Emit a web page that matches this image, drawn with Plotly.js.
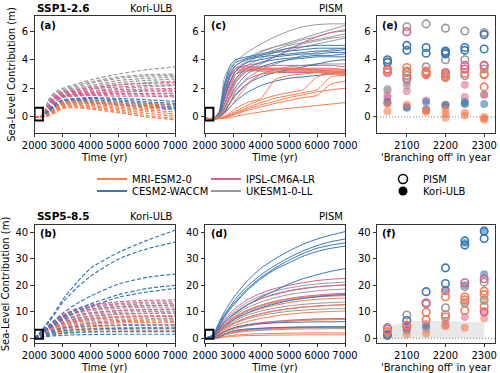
<!DOCTYPE html>
<html><head><meta charset="utf-8">
<script src="https://cdn.plot.ly/plotly-3.0.1.min.js"></script>
<style>html,body{margin:0;padding:0;background:#fff}</style>
</head><body><div id="chart" style="width:500px;height:373px"></div>
<script>
// ---------- DATA ----------
const T_KORI = [2000, 2300, 2500, 2700, 3000, 3500, 4000, 5000, 6000, 7000];
const T_PISM = [2000, 2300, 2500, 2700, 2900, 3100, 3500, 4000, 4500, 5000, 5500, 6000, 6500, 7000];

// (a) Kori-ULB SSP1-2.6
const a_UKESM = [
 [0,0.15,1.2,1.7,2.0,2.3,2.6,3.0,3.3,3.5],
 [0,0.12,1.1,1.6,1.9,2.2,2.45,2.8,2.95,3.0],
 [0,0.1,1.0,1.5,1.8,2.1,2.35,2.7,2.85,2.9],
 [0,0.1,0.95,1.45,1.75,2.0,2.2,2.55,2.7,2.8],
 [0,0.08,0.9,1.4,1.65,1.9,2.1,2.4,2.55,2.65],
 [0,0.08,0.85,1.3,1.55,1.75,1.95,2.25,2.4,2.5],
 [0,0.06,0.8,1.25,1.45,1.65,1.8,2.0,2.1,2.2],
 [0,0.05,0.7,1.15,1.4,1.55,1.65,1.8,1.85,1.9]];
const a_IPSL = [
 [0,0.08,0.85,1.35,1.7,1.9,2.05,2.25,2.35,2.4],
 [0,0.07,0.8,1.3,1.65,1.8,1.95,2.1,2.2,2.25],
 [0,0.06,0.75,1.25,1.55,1.7,1.8,1.9,1.95,2.0],
 [0,0.05,0.7,1.2,1.5,1.6,1.7,1.75,1.8,1.8],
 [0,0.05,0.65,1.1,1.45,1.55,1.6,1.65,1.65,1.65],
 [0,0.04,0.6,1.05,1.4,1.5,1.55,1.55,1.55,1.5],
 [0,0.04,0.55,1.0,1.35,1.45,1.5,1.45,1.45,1.4]];
const a_CESM = [
 [0,0.05,0.5,0.9,1.2,1.3,1.35,1.3,1.2,1.1],
 [0,0.05,0.45,0.85,1.15,1.25,1.3,1.2,1.05,0.95],
 [0,0.04,0.4,0.8,1.1,1.2,1.2,1.1,0.95,0.85],
 [0,0.04,0.35,0.75,1.05,1.15,1.15,1.0,0.85,0.7],
 [0,0.03,0.3,0.7,1.0,1.1,1.05,0.9,0.75,0.6],
 [0,0.03,0.3,0.65,0.95,1.05,1.0,0.85,0.7,0.55]];
const a_MRI = [
 [0,0.03,0.25,0.6,1.05,1.1,1.1,1.0,0.9,0.8],
 [0,0.03,0.22,0.55,0.95,1.05,1.05,0.9,0.75,0.65],
 [0,0.02,0.2,0.5,0.9,0.95,0.95,0.8,0.6,0.5],
 [0,0.02,0.18,0.45,0.85,0.9,0.9,0.7,0.5,0.35],
 [0,0.02,0.15,0.4,0.8,0.85,0.8,0.6,0.4,0.2],
 [0,0.01,0.12,0.35,0.72,0.78,0.72,0.5,0.25,0.05],
 [0,0.01,0.1,0.3,0.65,0.7,0.62,0.4,0.1,-0.1],
 [0,0.01,0.08,0.25,0.6,0.65,0.55,0.3,0.0,-0.2]];

// (c) PISM SSP1-2.6
const c_UKESM = [
 [-0.1,-0.1,0.35,2.8,3.5,3.9,4.5,5.1,5.6,6.0,6.3,6.45,6.5,6.5],
 [-0.1,-0.1,0.25,2.4,3.2,3.6,4.1,4.6,4.9,5.2,5.5,5.8,6.1,6.4],
 [-0.1,-0.1,0.2,2.2,3.0,3.4,3.9,4.5,4.9,5.1,5.4,5.6,5.9,6.1],
 [-0.1,-0.1,0.15,1.8,2.8,3.3,3.8,4.3,4.7,5.0,5.2,5.4,5.6,5.8],
 [-0.1,-0.1,0.1,1.4,2.4,3.0,3.6,4.1,4.5,4.8,5.1,5.3,5.5,5.6],
 [-0.1,-0.1,0.05,0.9,1.8,2.5,3.2,3.7,4.2,4.6,4.9,5.1,5.3,5.5],
 [-0.1,-0.1,0.0,0.6,1.3,1.9,2.7,3.3,3.7,4.0,4.3,4.5,4.7,4.8],
 [-0.1,-0.1,0.0,0.4,1.0,1.5,2.3,3.0,3.3,3.5,3.6,3.7,3.7,3.7],
 [-0.1,-0.1,0.1,1.5,2.5,3.0,3.2,3.3,3.3,3.35,3.3,3.3,3.2,3.2]];
const c_IPSL = [
 [-0.1,-0.1,0.2,1.6,2.9,3.4,3.6,3.8,4.2,4.7,5.2,5.6,5.9,6.0],
 [-0.1,-0.1,0.2,1.5,2.8,3.4,3.5,3.5,3.6,3.6,3.6,3.6,3.6,3.5],
 [-0.1,-0.1,0.15,1.2,2.5,3.2,3.4,3.4,3.4,3.4,3.4,3.4,3.4,3.3],
 [-0.1,-0.1,0.1,0.9,2.2,3.0,3.3,3.3,3.3,3.3,3.3,3.3,3.2,3.2],
 [-0.1,-0.1,0.05,0.6,1.6,2.6,3.2,3.2,3.2,3.2,3.2,3.2,3.1,3.1],
 [-0.1,-0.1,0.0,0.3,1.0,1.8,2.6,3.0,3.1,3.1,3.1,3.1,3.0,3.0]];
const c_CESM = [
 [-0.1,-0.1,0.3,2.3,3.6,4.0,4.2,4.4,4.6,4.8,4.9,5.0,5.0,5.0],
 [-0.1,-0.1,0.25,2.0,3.3,3.8,4.1,4.3,4.5,4.6,4.7,4.8,4.8,4.8],
 [-0.1,-0.1,0.2,1.7,3.0,3.6,4.0,4.2,4.3,4.4,4.5,4.6,4.6,4.7],
 [-0.1,-0.1,0.15,1.3,2.5,3.2,3.8,4.0,4.2,4.3,4.4,4.4,4.5,4.5],
 [-0.1,-0.1,0.1,0.9,1.9,2.7,3.4,3.8,4.0,4.1,4.2,4.3,4.3,4.4],
 [-0.1,-0.1,0.05,0.6,1.4,2.1,3.0,3.5,3.8,4.0,4.1,4.2,4.2,4.2],
 [-0.1,-0.1,0.0,0.4,1.0,1.6,2.3,2.8,3.1,3.3,3.5,3.7,3.9,4.0],
 [-0.1,-0.1,0.0,0.3,0.7,1.1,1.7,2.2,2.5,2.7,2.8,2.9,3.0,3.1]];
const c_MRI = [
 [-0.1,-0.1,0.1,0.8,2.0,3.0,3.4,3.4,3.4,3.4,3.4,3.3,3.3,3.3],
 [-0.1,-0.1,0.05,0.5,1.4,2.4,3.2,3.3,3.3,3.3,3.3,3.2,3.2,3.2],
 [-0.1,-0.15,-0.05,0.2,0.7,1.2,2.2,3.0,3.1,3.2,3.2,3.2,3.1,3.1],
 [-0.1,-0.15,-0.1,0.05,0.3,0.6,1.0,1.3,2.6,2.9,3.0,3.1,3.1,3.0],
 [-0.1,-0.15,-0.1,0.0,0.2,0.4,0.8,1.2,1.5,1.7,1.9,2.8,3.0,3.0],
 [-0.1,-0.15,-0.1,0.0,0.15,0.3,0.65,1.0,1.3,1.5,1.7,1.9,2.8,2.9],
 [-0.1,-0.15,-0.1,-0.05,0.1,0.25,0.55,0.85,1.1,1.35,1.55,1.75,1.9,2.0],
 [-0.1,-0.15,-0.1,-0.05,0.05,0.2,0.45,0.7,0.95,1.15,1.35,1.5,2.3,2.5],
 [-0.1,-0.15,-0.12,-0.1,-0.05,0.05,0.2,0.35,0.5,0.6,0.7,0.8,0.9,1.0]];

// (b) Kori-ULB SSP5-8.5
const b_UKESM = [
 [0,2.8,4.8,6.5,8.5,10.5,11.6,12.6,13.0,13.2],
 [0,2.6,4.5,6.1,8.0,9.9,11.0,12.0,12.4,12.5],
 [0,2.5,4.3,5.8,7.6,9.4,10.4,11.3,11.7,11.8],
 [0,2.3,4.0,5.4,7.0,8.7,9.6,10.4,10.7,10.8],
 [0,2.2,3.8,5.1,6.6,8.2,9.1,9.8,10.1,10.2],
 [0,2.0,3.5,4.7,6.2,7.6,8.5,9.2,9.4,9.5],
 [0,1.8,3.2,4.3,5.6,6.9,7.7,8.3,8.5,8.6],
 [0,1.6,2.8,3.8,4.9,6.0,6.7,7.2,7.4,7.5]];
const b_IPSL = [
 [0,2.8,4.9,6.7,8.9,11.2,12.5,13.8,14.3,14.5],
 [0,2.7,4.7,6.4,8.5,10.7,12.0,13.1,13.6,13.8],
 [0,2.5,4.3,5.8,7.7,9.7,10.9,11.9,12.3,12.5],
 [0,2.2,3.8,5.1,6.8,8.5,9.6,10.5,10.9,11.0],
 [0,2.0,3.4,4.5,5.9,7.4,8.3,9.1,9.4,9.5],
 [0,1.7,2.9,3.9,5.1,6.4,7.2,7.9,8.1,8.2],
 [0,1.4,2.4,3.2,4.1,5.1,5.7,6.3,6.5,6.5]];
const b_CESM = [
 [0,3.5,6.5,9.5,14.5,21,26.5,32.5,37,40.8],
 [0,3.2,6,8.8,13.5,19,23.5,30,33.8,36.3],
 [0,2.5,4.5,6.5,9.5,13,16,20.5,23,24.2],
 [0,2.2,4,5.5,8,11,13,16.5,18.8,20],
 [0,2.0,3.6,5,7.2,10,12,15.5,17.5,18.8],
 [0,1.2,2.2,3,3.8,4.4,4.7,5,5.1,5.1],
 [0,0.9,1.6,2.2,2.8,3.3,3.5,3.7,3.8,3.8],
 [0,0.6,1.1,1.5,1.9,2.2,2.4,2.5,2.5,2.5],
 [0,0.4,0.7,0.9,1.1,1.3,1.4,1.5,1.5,1.5]];
const b_MRI = [
 [0,1.8,3.1,4.1,5.3,6.6,7.4,8.1,8.4,8.5],
 [0,1.5,2.6,3.4,4.4,5.5,6.1,6.7,6.9,7.0],
 [0,1.3,2.2,2.9,3.8,4.7,5.3,5.8,5.9,6.0],
 [0,1.1,1.9,2.5,3.2,3.9,4.4,4.8,4.9,5.0],
 [0,0.9,1.6,2.1,2.7,3.3,3.7,4.0,4.1,4.2],
 [0,0.8,1.3,1.7,2.2,2.8,3.1,3.4,3.5,3.5],
 [0,0.6,1.0,1.4,1.8,2.2,2.5,2.7,2.8,2.8]];

// (d) PISM SSP5-8.5
const d_UKESM = [
 [0,1.0,3.8,6.5,8.8,10.6,13.5,16,17.8,19,19.9,20.5,20.9,21.2],
 [0,0.9,3.5,6,8.2,9.9,12.6,15,16.8,18,18.9,19.5,19.9,20.2],
 [0,0.8,3.2,5.5,7.4,9,11.5,13.7,15.3,16.5,17.3,17.9,18.3,18.6],
 [0,0.7,2.8,4.8,6.5,7.9,10.1,12,13.4,14.4,15.1,15.6,15.9,16.1],
 [0,0.6,2.5,4.2,5.6,6.8,8.7,10.3,11.4,12.2,12.8,13.2,13.5,13.7],
 [0,0.5,2.1,3.6,4.8,5.8,7.3,8.6,9.5,10.2,10.6,10.9,11.1,11.2],
 [0,0.3,1.5,2.6,3.4,4.1,5.1,5.9,6.4,6.8,7.1,7.3,7.4,7.5],
 [0,0.2,0.9,1.7,2.3,2.8,3.3,3.7,4,4.2,4.3,4.4,4.4,4.5],
 [0,0.1,0.6,1.2,1.7,2.1,2.6,3,3.2,3.4,3.5,3.5,3.6,3.6]];
const d_IPSL = [
 [0,1.0,4.0,7,9.5,11.5,14.5,17,18.8,20,21,21.8,22.3,22.6],
 [0,0.9,3.5,6,8,9.8,12.5,15,16.5,17.8,18.7,19.4,19.8,20.1],
 [0,0.8,3,5,6.8,8.2,10.5,12.5,14,15,15.8,16.3,16.7,17],
 [0,0.6,2.2,3.8,5,6,7.8,9.3,10.4,11.2,11.8,12.2,12.5,12.7],
 [0,0.4,1.5,2.5,3.3,4,5,5.8,6.3,6.7,7,7.2,7.3,7.4],
 [0,0.1,0.6,1.5,2.2,2.7,3.2,3.6,3.8,3.9,4,4,4,4]];
const d_CESM = [
 [0,1.5,6,10,13.5,16.5,21.5,26.5,30,33,35.5,37.5,39,40.3],
 [0,1.3,5.5,9,12,15,19.5,24,27.5,30.5,33,35,36.5,37.5],
 [0,1.2,5,8.5,11.5,14,18.5,23,26.5,29.5,32,34,35.2,36],
 [0,1.1,4.5,8,11,13.5,18,22.5,26,28.5,31,32.8,34,34.8],
 [0,0.8,3.5,6,8,9.5,12.5,15.5,18,20.5,22.5,24,25.3,26.3],
 [0,0.6,2.5,4.5,6,7.5,9.5,11.5,13,14.2,15,15.7,16.2,16.5],
 [0,0.3,1.2,2.5,3.5,4.2,5,5.5,5.8,6,6.1,6.2,6.2,6.3],
 [0,0,0.2,1.5,2.5,3,3.5,3.8,4.0,4.1,4.2,4.2,4.3,4.3]];
const d_MRI = [
 [0,0.7,3,5.2,7,8.4,10.6,12.5,13.8,14.8,15.5,16,16.4,16.6],
 [0,0.6,2.6,4.6,6.2,7.4,9.4,11.2,12.5,13.5,14.2,14.7,15,15.2],
 [0,0.5,2.2,3.8,5.1,6.1,7.8,9.2,10.3,11.1,11.7,12.1,12.4,12.6],
 [0,0.4,1.8,3.1,4.2,5,6.3,7.5,8.4,9.1,9.6,9.9,10.1,10.3],
 [0,0.3,1.3,2.3,3.1,3.7,4.6,5.4,6,6.4,6.7,6.9,7,7.1],
 [0,0.2,0.8,1.5,2,2.4,2.9,3.3,3.6,3.8,3.9,4,4,4],
 [0,0,0.3,0.7,1,1.2,1.5,1.7,1.8,1.9,2,2,2,2],
 [0,0,0.1,0.4,0.6,0.8,1.0,1.1,1.2,1.2,1.3,1.3,1.3,1.3]];

// (e) end-of-run values, SSP1-2.6, by branching year
const e_PISM_UKESM_x = [2050,2100,2100,2100,2150,2150,2150,2200,2200,2200,2200,2250,2250,2250,2300,2300,2300];
const e_PISM_UKESM_y = [3.85,6.3,3.2,2.9,6.5,3.5,3.0,6.2,4.0,3.0,2.75,6.0,4.0,2.9,5.9,3.6,3.35];
const e_PISM_CESM_x = [2050,2050,2100,2100,2150,2150,2200,2200,2200,2250,2250,2300,2300];
const e_PISM_CESM_y = [4.0,3.8,5.0,4.65,4.85,4.45,4.6,4.5,4.4,4.85,4.65,5.75,4.75];
const e_PISM_IPSL_x = [2050,2050,2100,2100,2150,2200,2250,2250,2300];
const e_PISM_IPSL_y = [3.35,3.1,5.95,2.65,3.1,3.1,3.6,3.35,3.6];
const e_PISM_MRI_x = [2050,2100,2100,2150,2150,2200,2200,2250,2300,2300,2300];
const e_PISM_MRI_y = [3.25,3.45,3.1,3.2,2.95,2.9,2.8,3.05,3.0,2.95,2.1];
const e_KORI_UKESM_x = [2050,2050,2100,2100,2150,2200,2250,2300];
const e_KORI_UKESM_y = [1.95,1.85,2.4,2.2,0.5,0.85,0.95,1.55];
const e_KORI_IPSL_x = [2050,2050,2100,2150,2200,2250,2250,2300];
const e_KORI_IPSL_y = [1.5,1.3,1.8,1.15,0.85,2.25,1.4,1.55];
const e_KORI_CESM_x = [2050,2050,2100,2100,2150,2150,2200,2250,2250,2300];
const e_KORI_CESM_y = [1.05,1.0,0.65,0.7,1.05,0.5,0.8,1.05,0.9,0.9];
const e_KORI_MRI_x = [2050,2050,2100,2150,2150,2200,2200,2200,2250,2250,2300,2300,2300];
const e_KORI_MRI_y = [0.9,0.4,0.85,0.45,0.35,0.5,0.2,-0.05,0.3,0.1,0.0,-0.2,-0.1];

// (f) end-of-run values, SSP5-8.5
const f_PISM_UKESM_x = [2050,2100,2150,2200,2200,2250,2250,2300,2300];
const f_PISM_UKESM_y = [4.0,8.8,13.0,11.5,9.0,19.5,13.5,21.2,14.5];
const f_PISM_CESM_x = [2050,2100,2150,2200,2200,2250,2250,2300,2300];
const f_PISM_CESM_y = [1.2,6.7,17.6,26.6,20.7,36.8,35.2,40.4,37.7];
const f_PISM_IPSL_x = [2050,2100,2150,2200,2250,2300,2300];
const f_PISM_IPSL_y = [3.5,4.5,13.4,18.0,21.0,22.5,10.0];
const f_PISM_MRI_x = [2050,2100,2150,2150,2200,2200,2250,2250,2250,2300,2300,2300];
const f_PISM_MRI_y = [2.5,5.0,9.8,7.0,15.7,8.0,15.7,14.5,10.5,17.8,16.5,12.0];
const f_KORI_UKESM_x = [2050,2100,2150,2200,2250,2300];
const f_KORI_UKESM_y = [2.5,3.5,3.5,6.5,13.0,14.0];
const f_KORI_IPSL_x = [2050,2100,2150,2200,2250,2300];
const f_KORI_IPSL_y = [1.5,4.0,5.5,5.0,8.0,9.5];
const f_KORI_CESM_x = [2050,2100,2150,2200,2250,2250,2300,2300];
const f_KORI_CESM_y = [0.8,3.0,4.5,18.3,20.0,36.0,40.8,24.2];
const f_KORI_MRI_x = [2050,2100,2150,2200,2250,2300];
const f_KORI_MRI_y = [1.0,1.5,1.8,4.5,4.0,7.5];
const f_band_x = [2050,2100,2150,2200,2250,2300];
const f_band_y = [4.3,6.3,6.6,6.5,6.2,6.0];

const MODELS = ['MRI-ESM2-0','CESM2-WACCM','IPSL-CM6A-LR','UKESM1-0-LL'];

// ---------- STYLE ----------
const COL = {MRI:'#f97c4e', CESM:'#3a79b8', IPSL:'#dd5f92', UKESM:'#9a9a9a'};
const FILL = {MRI:'rgba(249,124,78,0.6)', CESM:'rgba(58,121,184,0.6)', IPSL:'rgba(221,95,146,0.55)', UKESM:'rgba(154,154,154,0.6)'};
const FONT = 'DejaVu Sans';
const traces = [];

function addLines(T, sets, xa, ya, dashed){
  sets.forEach(([key, curves]) => {
    curves.forEach(v => traces.push({
      x: T, y: v, xaxis: xa, yaxis: ya, type:'scatter', mode:'lines', showlegend:false, hoverinfo:'skip',
      line:{color: COL[key], width: dashed ? 1.2 : 1.0, dash: dashed ? '4px,2px' : 'solid', shape:'spline', smoothing:0.6}
    }));
  });
}
addLines(T_KORI, [['UKESM',a_UKESM],['IPSL',a_IPSL],['CESM',a_CESM],['MRI',a_MRI]], 'x','y', true);
addLines(T_PISM, [['UKESM',c_UKESM],['IPSL',c_IPSL],['CESM',c_CESM],['MRI',c_MRI]], 'x2','y2', false);
addLines(T_KORI, [['UKESM',b_UKESM],['IPSL',b_IPSL],['MRI',b_MRI],['CESM',b_CESM]], 'x4','y4', true);
addLines(T_PISM, [['UKESM',d_UKESM],['IPSL',d_IPSL],['MRI',d_MRI],['CESM',d_CESM]], 'x5','y5', false);

// shaded band in (f)
traces.push({x:f_band_x, y:f_band_y, xaxis:'x6', yaxis:'y6', type:'scatter', mode:'lines', fill:'tozeroy',
  fillcolor:'#e8e8e8', line:{width:0, color:'#e8e8e8'}, showlegend:false, hoverinfo:'skip'});

function addPts(xs, ys, key, xa, ya, open){
  traces.push({x:xs, y:ys, xaxis:xa, yaxis:ya, type:'scatter', mode:'markers', showlegend:false, hoverinfo:'skip',
    marker: open ? {symbol:'circle-open', size:7.5, color:COL[key], line:{width:1.6, color:COL[key]}}
                 : {symbol:'circle', size:8, color:FILL[key], line:{width:0}}});
}
addPts(e_KORI_UKESM_x,e_KORI_UKESM_y,'UKESM','x3','y3',false);
addPts(e_KORI_IPSL_x,e_KORI_IPSL_y,'IPSL','x3','y3',false);
addPts(e_KORI_CESM_x,e_KORI_CESM_y,'CESM','x3','y3',false);
addPts(e_KORI_MRI_x,e_KORI_MRI_y,'MRI','x3','y3',false);
addPts(e_PISM_UKESM_x,e_PISM_UKESM_y,'UKESM','x3','y3',true);
addPts(e_PISM_IPSL_x,e_PISM_IPSL_y,'IPSL','x3','y3',true);
addPts(e_PISM_CESM_x,e_PISM_CESM_y,'CESM','x3','y3',true);
addPts(e_PISM_MRI_x,e_PISM_MRI_y,'MRI','x3','y3',true);
addPts(f_KORI_UKESM_x,f_KORI_UKESM_y,'UKESM','x6','y6',false);
addPts(f_KORI_IPSL_x,f_KORI_IPSL_y,'IPSL','x6','y6',false);
addPts(f_KORI_CESM_x,f_KORI_CESM_y,'CESM','x6','y6',false);
addPts(f_KORI_MRI_x,f_KORI_MRI_y,'MRI','x6','y6',false);
addPts(f_PISM_UKESM_x,f_PISM_UKESM_y,'UKESM','x6','y6',true);
addPts(f_PISM_IPSL_x,f_PISM_IPSL_y,'IPSL','x6','y6',true);
addPts(f_PISM_CESM_x,f_PISM_CESM_y,'CESM','x6','y6',true);
addPts(f_PISM_MRI_x,f_PISM_MRI_y,'MRI','x6','y6',true);

// legend entries
const legKeys = ['MRI','CESM','IPSL','UKESM'];
const legIds = ['legend','legend3','legend2','legend4'];
MODELS.forEach((name,i) => traces.push({x:[null], y:[null], xaxis:'x', yaxis:'y', type:'scatter', mode:'lines',
  name:name, legend:legIds[i], showlegend:true, line:{color:COL[legKeys[i]], width:2}}));
traces.push({x:[null], y:[null], xaxis:'x', yaxis:'y', type:'scatter', mode:'markers', name:'PISM', legend:'legend5',
  showlegend:true, marker:{symbol:'circle-open', size:9, color:'#000', line:{width:1.5, color:'#000'}}});
traces.push({x:[null], y:[null], xaxis:'x', yaxis:'y', type:'scatter', mode:'markers', name:'Kori-ULB', legend:'legend6',
  showlegend:true, marker:{symbol:'circle', size:9, color:'#000'}});

// ---------- LAYOUT ----------
const H = 373, W = 500;
const px = v => v / W, py = v => 1 - v / H;
const tickFont = {family: FONT, size: 10, color: '#000'};
function ax(extra){
  return Object.assign({showline:true, mirror:true, linecolor:'#000', linewidth:0.8, ticks:'outside', ticklen:3.5,
    tickwidth:0.8, tickcolor:'#000', showgrid:false, zeroline:false, tickfont:tickFont, fixedrange:true}, extra);
}
const topDom = [py(133), py(16)], botDom = [py(343), py(225)];
const dA = [px(34.5), px(175)], dC = [px(205), px(345)], dE = [px(377), px(495)];
const yTitle = {text:'Sea-Level Contribution (m)', font:{family:FONT, size:10, color:'#000'}, standoff:4};
const tTitle = {text:'Time (yr)', font:{family:FONT, size:10, color:'#000'}, standoff:3};
const bTitle = {text:"'Branching off' in year", font:{family:FONT, size:10, color:'#000'}, standoff:3};
const lineTicks = [2000,3000,4000,5000,6000,7000];
const scTicks = [2100,2200,2300];

function legendAt(x, y){
  return {x:px(x), y:py(y), xanchor:'left', yanchor:'middle', bgcolor:'rgba(0,0,0,0)', borderwidth:0,
    font:{family:FONT, size:10, color:'#000'}, itemwidth:30, orientation:'v', tracegroupgap:0};
}

const ann = [];
function txt(x, y, s, anchor, bold, size){
  ann.push({xref:'paper', yref:'paper', x:px(x), y:py(y), xanchor:anchor, yanchor:'middle', showarrow:false,
    text: bold ? '<b>'+s+'</b>' : s, font:{family:FONT, size:size||10, color:'#000'}});
}
txt(35, 8, 'SSP1-2.6', 'left', true, 10.5); txt(175, 8, 'Kori-ULB', 'right');
txt(345, 8, 'PISM', 'right');
txt(35, 216, 'SSP5-8.5', 'left', true, 10.5); txt(175, 216, 'Kori-ULB', 'right');
txt(345, 216, 'PISM', 'right');
txt(38, 25, '(a)', 'left', true); txt(209, 25, '(c)', 'left', true); txt(380, 25, '(e)', 'left', true);
txt(38, 233, '(b)', 'left', true); txt(209, 233, '(d)', 'left', true); txt(380, 233, '(f)', 'left', true);

const boxLine = {color:'#000', width:2};
const zeroLine = {color:'#888', width:1.1, dash:'1px,2px'};
const shapes = [
  {type:'rect', xref:'x', yref:'y', x0:2000, x1:2300, y0:-0.25, y1:0.65, line:boxLine},
  {type:'rect', xref:'x2', yref:'y2', x0:2000, x1:2300, y0:-0.25, y1:0.65, line:boxLine},
  {type:'rect', xref:'x4', yref:'y4', x0:2000, x1:2300, y0:-0.2, y1:3.2, line:boxLine},
  {type:'rect', xref:'x5', yref:'y5', x0:2000, x1:2300, y0:-0.2, y1:3.2, line:boxLine},
  {type:'line', xref:'x3 domain', yref:'y3', x0:0, x1:1, y0:0, y1:0, line:zeroLine},
  {type:'line', xref:'x6 domain', yref:'y6', x0:0, x1:1, y0:0, y1:0, line:zeroLine}
];

const layout = {
  width: W, height: H, margin:{l:0, r:0, t:0, b:0}, paper_bgcolor:'#fff', plot_bgcolor:'#fff',
  font:{family:FONT, size:10, color:'#000'},
  xaxis: ax({domain:dA, anchor:'y', range:[2000,7000], tickvals:lineTicks, title:tTitle}),
  yaxis: ax({domain:topDom, anchor:'x', range:[-1.12,7.05], tickvals:[0,2,4,6], title:yTitle}),
  xaxis2: ax({domain:dC, anchor:'y2', range:[2000,7000], tickvals:lineTicks, title:tTitle}),
  yaxis2: ax({domain:topDom, anchor:'x2', range:[-1.12,7.05], tickvals:[0,2,4,6]}),
  xaxis3: ax({domain:dE, anchor:'y3', range:[2023,2328], tickvals:scTicks, title:bTitle}),
  yaxis3: ax({domain:topDom, anchor:'x3', range:[-1.12,7.05], tickvals:[0,2,4,6]}),
  xaxis4: ax({domain:dA, anchor:'y4', range:[2000,7000], tickvals:lineTicks, title:tTitle}),
  yaxis4: ax({domain:botDom, anchor:'x4', range:[-1.8,42.8], tickvals:[0,10,20,30,40], title:yTitle}),
  xaxis5: ax({domain:dC, anchor:'y5', range:[2000,7000], tickvals:lineTicks, title:tTitle}),
  yaxis5: ax({domain:botDom, anchor:'x5', range:[-1.8,42.8], tickvals:[0,10,20,30,40]}),
  xaxis6: ax({domain:dE, anchor:'y6', range:[2023,2328], tickvals:scTicks, title:bTitle}),
  yaxis6: ax({domain:botDom, anchor:'x6', range:[-1.8,42.8], tickvals:[0,10,20,30,40]}),
  legend: legendAt(92, 179), legend2: legendAt(206, 179),
  legend3: legendAt(92, 191), legend4: legendAt(206, 191),
  legend5: legendAt(383, 179), legend6: legendAt(383, 191),
  annotations: ann, shapes: shapes, showlegend:true
};

Plotly.newPlot('chart', traces, layout, {staticPlot:true, displayModeBar:false});
</script></body></html>
